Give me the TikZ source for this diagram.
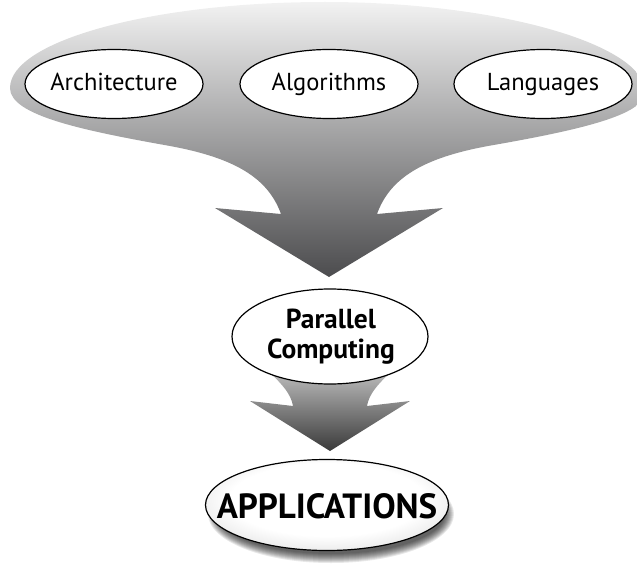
\documentclass[tikz,border=0pt]{standalone}
\usepackage{fontspec}
\setmainfont{PT Sans}
\usetikzlibrary{shadings,shapes.geometric}
\definecolor{ftop}{HTML}{F2F2F2}
\definecolor{fmid}{HTML}{ADADAF}
\definecolor{fbot}{HTML}{4C4C4E}
\definecolor{stop}{HTML}{CFCFCF}
\definecolor{sbot}{HTML}{3A3A3A}
\definecolor{appedge}{HTML}{8A8A8A}
\definecolor{appmid}{HTML}{D6D6D6}
\pgfdeclareradialshading{appshade}{\pgfpoint{0bp}{5bp}}{color(0bp)=(white); color(20bp)=(white); color(36bp)=(appmid); color(50bp)=(appedge)}
\begin{document}
\begin{tikzpicture}[x=1pt,y=-1pt,
  ellbase/.style={draw=black,line width=1.2pt,ellipse,inner sep=0pt},
  topell/.style={ellbase,fill=white,minimum width=178pt,minimum height=69pt},
  toptext/.style={inner sep=0pt,anchor=base,font=\fontsize{24.5}{26}\selectfont},
  midell/.style={ellbase,fill=white,minimum width=196pt,minimum height=95pt},
  midtext/.style={inner sep=0pt,anchor=base,font=\bfseries\fontsize{27.5}{30}\selectfont},
  appell/.style={ellbase,shading=appshade,minimum width=243pt,minimum height=91pt},
  apptext/.style={inner sep=0pt,anchor=base,font=\bfseries\fontsize{35}{38}\selectfont}]
\useasboundingbox (0,0) rectangle (637,567);
% big funnel arrow
\shade[top color=ftop,middle color=fmid,bottom color=fbot]
  (329,277) -- (215,208) -- (281,214)
  .. controls (268,178) and (235,158) .. (170,146)
  .. controls (80,130) and (10,115) .. (10,88)
  .. controls (10,41) and (152,2) .. (325,2)
  .. controls (500,2) and (645,45) .. (645,92)
  .. controls (645,115) and (580,130) .. (488,146)
  .. controls (423,158) and (390,178) .. (377,214)
  -- (443,208) -- cycle;
% small arrow
\shade[top color=stop,bottom color=sbot]
  (268,360) -- (270,373)
  .. controls (282,384) and (291,394) .. (293,406)
  -- (250,401) -- (330,451) -- (410,401) -- (367,406)
  .. controls (369,394) and (378,384) .. (390,373) -- (392,360) -- cycle;
% nodes
\node[topell] (arch) at (114,84) {};
\node[toptext] (archt) at (114,91) {Architecture};
\node[topell] (algo) at (329,84) {};
\node[toptext] (algot) at (329,91) {Algorithms};
\node[topell] (lang) at (543,84) {};
\node[toptext] (langt) at (543,91) {Languages};
\node[midell] (pc) at (330,336.5) {};
\node[midtext] (pct1) at (331,328) {Parallel};
\node[midtext] (pct2) at (331,358) {Computing};
% shadow
\foreach \i in {0,...,9}{
  \fill[black,opacity=0.09] (331,514) ellipse ({114+\i*1.0} and {40+\i*1.0});
}
\node[appell] (app) at (327,505) {};
\node[apptext] (appt) at (327,518) {APPLICATIONS};
\end{tikzpicture}
\end{document}
